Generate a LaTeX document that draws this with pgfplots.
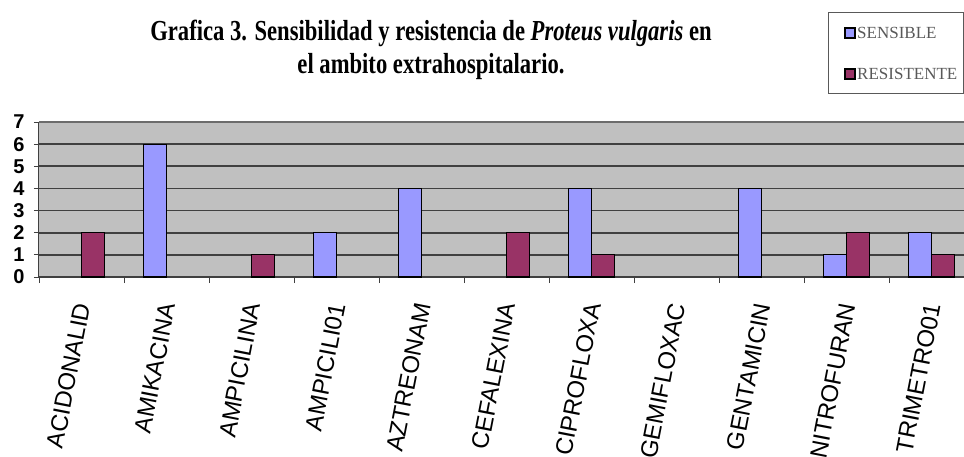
\documentclass[border=0pt]{standalone}
\usepackage{fontspec}
\usepackage{pgfplots}
\pgfplotsset{compat=1.18}
\setmainfont{Liberation Serif}
\newfontfamily\titlefont[FakeStretch=0.78]{Liberation Serif}
\newfontfamily\arialfont{Liberation Sans}
\definecolor{sens}{HTML}{9999FF}
\definecolor{resi}{HTML}{993366}
\definecolor{bgg}{HTML}{C0C0C0}
\definecolor{gridc}{HTML}{404040}
\begin{document}
\begin{tikzpicture}[x=1pt,y=1pt]
\useasboundingbox (0pt,0pt) rectangle (964pt,-457pt);
\begin{axis}[
  at={(39pt,-277pt)}, anchor=south west,
  scale only axis, width=925pt, height=155pt,
  xmin=-0.5, xmax=10.38, ymin=0, ymax=7,
  axis background/.style={fill=bgg},
  axis line style={draw=gridc, line width=1pt},
  axis x line*=bottom, axis y line*=left,
  ymajorgrids, grid style={draw=gridc, line width=1.6pt},
  ytick={0,1,...,6},
  extra y ticks={7},
  extra y tick style={grid style={draw=gray!85!black, line width=1.6pt}},
  yticklabel style={font=\arialfont\bfseries\fontsize{20}{20}\selectfont, xshift=-6pt},
  /pgf/number format/assume math mode=true,
  xtick={0,1,...,10},
  major x tick style={draw=none},
  minor xtick={-0.5,0.5,...,10.5},
  minor x tick style={draw=gridc, line width=0.8pt},
  minor tick length=6pt,
  major tick length=5pt,
  tick align=outside,
  y tick style={draw=gridc, line width=0.8pt},
  xticklabels={ACIDONALID,AMIKACINA,AMPICILINA,AMPICILI01,AZTREONAM,CEFALEXINA,CIPROFLOXA,GEMIFLOXAC,GENTAMICIN,NITROFURAN,TRIMETRO01},
  xticklabel style={yshift=-18pt, xshift=2pt, font=\arialfont\fontsize{24}{24}\selectfont, rotate=79, anchor=east},
  ybar, bar width=0.27, 
  clip=false,
]
\addplot[fill=sens, draw=black, line width=1.2pt, bar shift=-0.135] coordinates {
 (1,6) (3,2) (4,4) (6,4) (8,4) (9,1) (10,2)};
\addplot[fill=resi, draw=black, line width=1.2pt, bar shift=0.135] coordinates {
 (0,2) (2,1) (5,2) (6,1) (9,2) (10,1)};
\end{axis}
\node[font=\titlefont\bfseries\fontsize{29}{33}\selectfont, align=center] at (431pt,-50pt) {Grafica 3. Sensibilidad y resistencia de \textit{Proteus vulgaris} en\\ el ambito extrahospitalario.};
\draw[draw=gray!70!black, line width=0.8pt] (828pt,-12pt) rectangle (963.5pt,-93pt);
\node[anchor=west, inner sep=0, text=black!65, font=\fontsize{17}{17}\selectfont] at (857pt,-33pt) {SENSIBLE};
\node[anchor=west, inner sep=0, text=black!65, font=\fontsize{17}{17}\selectfont] at (857pt,-74pt) {RESISTENTE};
\draw[fill=sens, draw=black, line width=1.2pt] (845pt,-28pt) rectangle (855pt,-38pt);
\draw[fill=resi, draw=black, line width=1.2pt] (845pt,-69pt) rectangle (855pt,-79pt);
\end{tikzpicture}
\end{document}
